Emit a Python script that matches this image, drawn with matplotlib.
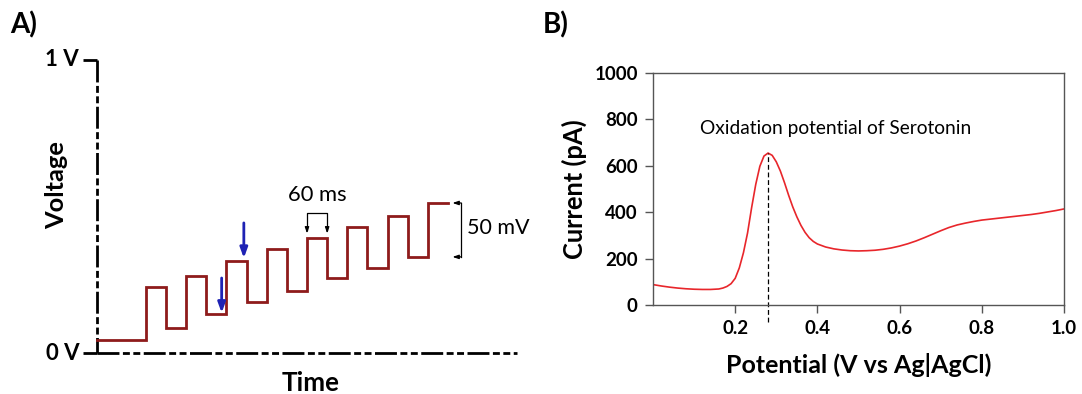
import matplotlib
matplotlib.use("Agg")
import matplotlib.pyplot as plt

plt.rcParams['font.family'] = ['Lato', 'DejaVu Sans']
plt.rcParams['lines.scale_dashes'] = False

# ---------------- Panel A data (schematic staircase, ms / mV) ----------------
step_edges_ms = [0, 145, 205, 265, 325, 385, 445, 505, 565, 625, 685, 745, 805, 865, 925, 985, 1045]
step_levels_mv = [44, 225, 85, 263, 133, 314, 174, 355, 212, 392, 256, 430, 290, 468, 328, 512]
arrow_x_ms = [371, 437]
arrow_from_mv = [256, 444]
arrow_to_mv = [137, 324]
axis_ticks_mv = [0, 1000]
axis_tick_labels = ["0 V", "1 V"]

# ---------------- Panel B data ----------------
potential = [0.00, 0.02, 0.04, 0.06, 0.08, 0.10, 0.12, 0.14, 0.16, 0.17, 0.18, 0.19, 0.20,
             0.21, 0.22, 0.23, 0.24, 0.25, 0.26, 0.27, 0.28, 0.29, 0.30, 0.31, 0.32, 0.33,
             0.34, 0.35, 0.36, 0.37, 0.38, 0.39, 0.40, 0.42, 0.44, 0.46, 0.48, 0.50, 0.52,
             0.54, 0.56, 0.58, 0.60, 0.62, 0.64, 0.66, 0.68, 0.70, 0.72, 0.74, 0.76, 0.78,
             0.80, 0.82, 0.84, 0.86, 0.88, 0.90, 0.92, 0.94, 0.96, 0.98, 1.00]
current = [88, 82, 77, 73, 70, 68, 67, 67, 69, 73, 80, 92, 115,
           160, 225, 310, 420, 520, 598, 642, 655, 645, 617, 577, 527, 473,
           423, 380, 343, 313, 290, 274, 263, 250, 242, 237, 234, 233, 234,
           236, 240, 246, 254, 264, 276, 290, 305, 320, 334, 345, 353, 360,
           366, 370, 374, 378, 382, 386, 390, 395, 401, 407, 414]
peak_potential = 0.28
peak_current = 655
xticks_b = [0.2, 0.4, 0.6, 0.8, 1.0]
yticks_b = [0, 200, 400, 600, 800, 1000]

fig = plt.figure(figsize=(10.82, 3.94), dpi=100)

# ================= Panel A =================
axA = fig.add_axes([97/1082, 1-353/394, 420/1082, 293/394])
axA.set_xlim(0, 1250)
axA.set_ylim(0, 1000)
axA.axis('off')

pattern = (0, (15.8, 2.5, 5, 2.5, 5, 2.5))
axA.plot([0, 0], [1000, 0], color='black', lw=2.0, linestyle=pattern, clip_on=False,
         dash_capstyle='butt')
axA.plot([0, 1250], [0, 0], color='black', lw=2.0, linestyle=pattern, clip_on=False,
         dash_capstyle='butt')
for v, lab in zip(axis_ticks_mv, axis_tick_labels):
    axA.plot([-42, 0], [v, v], color='black', lw=2.0, clip_on=False, solid_capstyle='butt')
    axA.text(-53, v, lab, ha='right', va='center', fontsize=16, fontweight='bold')

# staircase
xs, ys = [], []
for i, lev in enumerate(step_levels_mv):
    xs += [step_edges_ms[i], step_edges_ms[i+1]]
    ys += [lev, lev]
axA.plot(xs, ys, color='#8E1B1B', lw=2.0, clip_on=False, solid_joinstyle='miter')

# blue arrows
for xa, y0, y1 in zip(arrow_x_ms, arrow_from_mv, arrow_to_mv):
    axA.annotate('', xy=(xa, y1), xytext=(xa, y0),
                 arrowprops=dict(arrowstyle='-|>,head_length=0.6,head_width=0.22',
                                 color='#1E22B4', lw=2.0, shrinkA=0, shrinkB=0))

# 60 ms bracket
b_left, b_right = step_edges_ms[9], step_edges_ms[10]
b_top, b_tip = 478, 408
axA.plot([b_left, b_left, b_right, b_right], [b_tip + 12, b_top, b_top, b_tip + 12],
         color='black', lw=0.9)
for bx in (b_left, b_right):
    axA.annotate('', xy=(bx, b_tip), xytext=(bx, b_tip + 14),
                 arrowprops=dict(arrowstyle='-|>,head_length=0.35,head_width=0.12',
                                 color='black', lw=0.9, shrinkA=0, shrinkB=0))
axA.text((b_left + b_right) / 2, 539, '60 ms', ha='center', va='center', fontsize=15.8)

# 50 mV bracket
vx = 1084
top_mv, bot_mv = step_levels_mv[-1], step_levels_mv[-2]
axA.plot([vx, vx], [top_mv, bot_mv], color='black', lw=0.9, clip_on=False)
for yy in (top_mv, bot_mv):
    axA.annotate('', xy=(1058, yy), xytext=(vx, yy),
                 arrowprops=dict(arrowstyle='-|>,head_length=0.35,head_width=0.12',
                                 color='black', lw=0.9, shrinkA=0, shrinkB=0),
                 annotation_clip=False)
axA.text(1102, 427, '50 mV', ha='left', va='center', fontsize=15.5)

fig.text(57/1082, 1-185/394, 'Voltage', rotation=90, ha='center', va='center',
         fontsize=18.3, fontweight='bold')
fig.text(311/1082, 1-383/394, 'Time', ha='center', va='center', fontsize=18.7, fontweight='bold')
fig.text(10/1082, 1-25/394, 'A)', ha='left', va='center', fontsize=20, fontweight='bold')
fig.text(543/1082, 1-25/394, 'B)', ha='left', va='center', fontsize=20, fontweight='bold')

# ================= Panel B =================
axB = fig.add_axes([653/1082, 1-305/394, 411/1082, 232/394])
axB.plot(potential, current, color='#E8262B', lw=1.2)
axB.plot([peak_potential, peak_potential], [-75, peak_current], color='black', lw=0.9,
         linestyle=(0, (3.5, 2)), clip_on=False)
axB.set_xlim(0, 1.0)
axB.set_ylim(0, 1000)
axB.set_xticks(xticks_b)
axB.set_xticklabels([f'{t:.1f}' for t in xticks_b])
axB.set_yticks(yticks_b)
for sp in axB.spines.values():
    sp.set_color('#555555')
    sp.set_linewidth(1.0)
axB.tick_params(direction='out', length=6, width=1, color='#555555', labelsize=13.5, pad=5)
for lab in axB.get_xticklabels() + axB.get_yticklabels():
    lab.set_fontweight('bold')
axB.set_ylabel('Current (pA)', fontsize=18.4, fontweight='bold')
axB.yaxis.set_label_coords(-0.192, 0.5)
axB.set_xlabel('Potential (V vs Ag|AgCl)', fontsize=18, fontweight='bold')
axB.xaxis.set_label_coords(0.5, -0.259)
axB.xaxis.label.set_va('center')
axB.yaxis.label.set_va('center')
axB.text(0.114, 759, 'Oxidation potential of Serotonin', ha='left', va='center', fontsize=13.8)

fig.savefig('out.png', dpi=100)
